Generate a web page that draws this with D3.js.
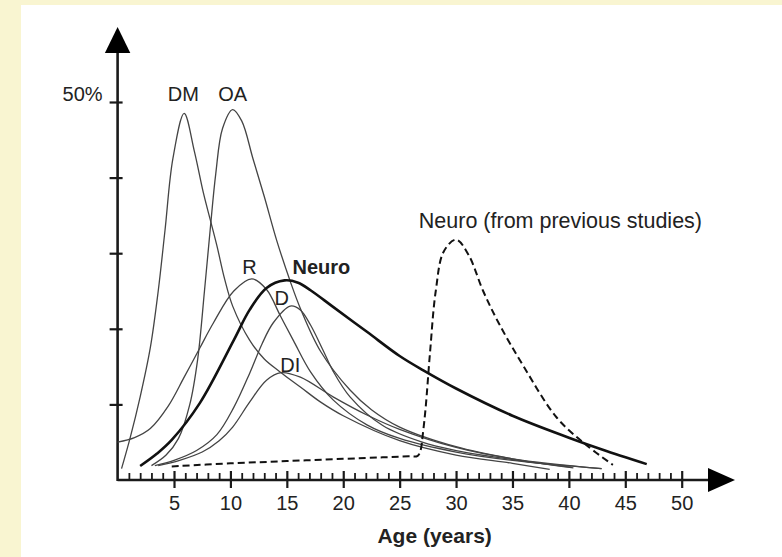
<!DOCTYPE html>
<html>
<head>
<meta charset="utf-8">
<script src="https://cdn.jsdelivr.net/npm/d3@7"></script>
<style>
	html, body { margin: 0; padding: 0; background: #f9f5d1; }
	svg { display: block; font-family: "Liberation Sans", Arial, Helvetica, sans-serif; }
</style>
</head>
<body>
<svg width="782" height="557"></svg>
<script>
// ages (years) and share (%)
var dmCurve = [[0.35,1.5],[1.1,5.5],[2.0,11],[2.9,17.5],[3.6,25],[4.2,33],[4.9,42.5],[5.9,48.5],[6.8,43.5],[7.6,38],[8.2,34.5],[8.8,31],[9.5,26.5],[10.2,23],[11.7,18.5],[13,16],[14.4,14.3],[16.2,12.3],[18,10.3],[20,8.5],[25,5.2],[30,3.3],[35,2.2],[38.3,1.4]];
var oaCurve = [[3.0,1.9],[4.3,3.3],[5.4,5.5],[6.4,10],[7.1,16],[7.7,25],[8.2,33],[8.7,40.5],[9.3,46.5],[10.2,49],[11.0,47.5],[12.0,42.5],[13.0,37.5],[14.1,31.7],[15.3,26.3],[16.2,22.7],[18,17],[20.6,11.9],[22.5,9.3],[25,7],[30,4.4],[35,2.8],[40.4,1.6]];
var rCurve = [[0,5],[1.5,5.6],[2.9,6.8],[4.5,9.8],[5.9,13.6],[7.3,17.5],[8.5,20.8],[10.3,25],[11.9,26.6],[13.2,25.2],[14.4,21.8],[15.6,18.4],[17.1,14.3],[19.1,10.6],[22.1,7.3],[25,5.5],[30,3.7],[35,2.6],[42.9,1.5]];
var dCurve = [[3.3,1.9],[5,2.6],[7,3.9],[8.8,6],[10.3,9.6],[11.7,14.1],[12.8,18],[13.8,20.8],[15.3,23],[16.2,22.5],[17.1,20.5],[18.2,17.2],[19.1,14.4],[20.6,11],[23.5,7.2],[27,5],[30,3.9],[35,2.7],[40.2,1.7]];
var diCurve = [[3.6,1.9],[5.5,2.6],[7.5,3.7],[9,5.2],[10.2,7],[11.7,10.3],[13.2,13.2],[14.5,14.2],[16.2,13.6],[19.1,11],[22.1,8.6],[25,6.7],[30,4.3],[35,2.8],[42.9,1.5]];
var neuroCurve = [[2.0,1.85],[3.5,3.5],[4.8,5.3],[7.3,10.2],[10.3,18.5],[11.7,22.5],[13.2,25.4],[14.8,26.4],[16,26.1],[17.1,25.1],[19.1,22.9],[22.1,19.6],[25,16.4],[27.1,14.5],[30,12.1],[35,8.5],[40,5.6],[43,4.0],[46.9,2.1]];
var neuroPrevCurve = [[4.8,1.8],[10,2.2],[15,2.5],[20,2.8],[23.5,3.0],[25.8,3.13],[26.6,3.2],[26.85,3.9],[27.05,6],[27.3,9.5],[27.7,17],[28.2,25],[28.9,30.2],[30,31.8],[31.1,29.8],[32.4,25],[33.8,20.7],[36,15],[38.9,8.3],[41.4,4.8],[43.9,2]];

var seriesNames = ["DM", "OA", "R", "D", "DI", "Neuro", "Neuro (from previous studies)"];
var seriesData = [dmCurve, oaCurve, rCurve, dCurve, diCurve, neuroCurve, neuroPrevCurve];

var majorTicks = [5, 10, 15, 20, 25, 30, 35, 40, 45, 50];
var minorTicks = d3.range(1, 51).filter(function(v) { return v % 5 !== 0; });
var yTicks = [10, 20, 30, 40, 50];

(function() {
	var svg = d3.select("svg");

	var x = d3.scaleLinear().domain([0, 50]).range([117.6, 681.7]);
	var y = d3.scaleLinear().domain([0, 50]).range([480, 102]);

	// white sheet on the cream slide
	svg.append("rect")
		.attr("x", 21).attr("y", 5)
		.attr("width", 782 - 21).attr("height", 557 - 5)
		.attr("fill", "#fff");

	var ink = "#1a1a1a";

	// minor ticks stand on the axis, majors cross it
	var minorAxis = svg.append("g")
		.attr("transform", "translate(0," + y(0) + ")")
		.call(d3.axisBottom(x).tickValues(minorTicks).tickSizeInner(-7).tickSizeOuter(0).tickFormat(""));
	minorAxis.select(".domain").remove();
	minorAxis.selectAll("line").attr("stroke", ink).attr("stroke-width", 1.8);

	var xAxis = svg.append("g")
		.attr("transform", "translate(0," + y(0) + ")")
		.call(d3.axisBottom(x).tickValues(majorTicks).tickSizeInner(8).tickSizeOuter(0).tickPadding(8));
	xAxis.select(".domain").remove();
	xAxis.selectAll("line").attr("y1", -9).attr("stroke", ink).attr("stroke-width", 2.2);
	xAxis.selectAll("text")
		.attr("font-size", 20)
		.attr("font-family", null)
		.attr("fill", "#222");

	var yAxis = svg.append("g")
		.attr("transform", "translate(" + x(0) + ",0)")
		.call(d3.axisLeft(y).tickValues(yTicks).tickSizeInner(8).tickSizeOuter(0).tickPadding(7)
			.tickFormat(function(d) { return d === 50 ? "50%" : ""; }));
	yAxis.select(".domain").remove();
	yAxis.selectAll("line").attr("x1", 5).attr("stroke", ink).attr("stroke-width", 2.2);
	yAxis.selectAll("text")
		.attr("y", -8)
		.attr("font-size", 20)
		.attr("font-family", null)
		.attr("fill", "#222");

	// axis lines with arrow heads
	svg.append("line")
		.attr("x1", x(0)).attr("x2", 710)
		.attr("y1", y(0)).attr("y2", y(0))
		.attr("stroke", ink).attr("stroke-width", 2.6);
	svg.append("line")
		.attr("x1", x(0)).attr("x2", x(0))
		.attr("y1", y(0) + 1).attr("y2", 50)
		.attr("stroke", ink).attr("stroke-width", 2.6);
	svg.append("path")
		.attr("d", "M" + 708 + "," + (y(0) - 12) + "L735," + y(0) + "L708," + (y(0) + 12) + "Z")
		.attr("fill", "#000");
	svg.append("path")
		.attr("d", "M" + (x(0) - 12.7) + ",53L" + x(0) + ",27L" + (x(0) + 12.7) + ",53Z")
		.attr("fill", "#000");

	var line = d3.line()
		.x(function(d) { return x(d[0]); })
		.y(function(d) { return y(d[1]); })
		.curve(d3.curveCatmullRom.alpha(0.5));

	svg.append("g").selectAll("path")
		.data(seriesData)
		.enter().append("path")
			.attr("d", line)
			.attr("fill", "none")
			.attr("stroke", function(d, i) { return i >= 5 ? "#111" : "#444"; })
			.attr("stroke-width", function(d, i) { return i === 5 ? 2.6 : (i === 6 ? 2 : 1.3); })
			.attr("stroke-dasharray", function(d, i) { return i === 6 ? "7,4" : null; })
			.attr("stroke-linejoin", "round");

	// curve names, placed in data units
	var labelAt = [[5.82, 50.1, "middle"], [10.2, 50.1, "middle"], [11.68, 27.3, "middle"], [14.55, 23.1, "middle"], [15.3, 14.35, "middle"], [15.5, 27.3, "start"], [26.7, 33.3, "start"]];

	svg.append("g").selectAll("text")
		.data(seriesNames)
		.enter().append("text")
			.attr("x", function(d, i) { return x(labelAt[i][0]); })
			.attr("y", function(d, i) { return y(labelAt[i][1]); })
			.attr("text-anchor", function(d, i) { return labelAt[i][2]; })
			.attr("font-size", function(d, i) { return i === 6 ? 21.5 : 20; })
			.attr("font-weight", function(d, i) { return i === 5 ? "bold" : null; })
			.attr("fill", "#222")
			.text(function(d) { return d; });

	svg.append("text")
		.attr("x", x(28.1))
		.attr("y", 543)
		.attr("text-anchor", "middle")
		.attr("font-size", 21)
		.attr("font-weight", "bold")
		.attr("fill", "#222")
		.text("Age (years)");
})();
</script>
</body>
</html>
